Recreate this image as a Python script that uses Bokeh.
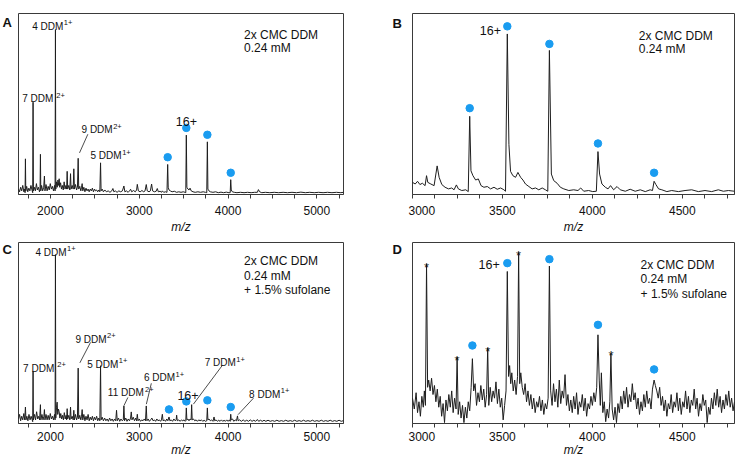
from bokeh.plotting import figure
from bokeh.models import Range1d, FixedTicker, Label
from bokeh.layouts import column, row
from bokeh.embed import file_html
from bokeh.resources import INLINE
from bokeh.core.properties import value

FONT = "Liberation Sans"
BLUE = "#1A9CF0"
INK = "#1e1e1e"

# ---------------- data (m/z, relative intensity) ----------------
A_TRACE = [
    (1640, 3), (1652, 1.5), (1664, 4), (1676, 2), (1688, 5), (1700, 1.5), (1710, 3), (1714, 1),
    (1718, 19.7), (1722, 2), (1732, 4.5), (1744, 1.5), (1756, 3.5), (1768, 2), (1780, 5), (1792, 2.5),
    (1800, 1), (1804, 51), (1808, 2), (1818, 4), (1830, 2), (1842, 6), (1852, 2.5), (1864, 4),
    (1876, 1.5), (1883, 3), (1887, 22.2), (1891, 2), (1900, 5), (1912, 2), (1924, 4), (1932, 10.2),
    (1938, 2), (1950, 5.5), (1962, 2), (1974, 4.5), (1986, 2.5), (1998, 6), (2010, 3), (2022, 4.5),
    (2034, 2), (2046, 5), (2052, 2), (2056, 91.1), (2060, 3), (2068, 7), (2076, 4), (2084, 8),
    (2092, 5), (2098, 8.7), (2104, 4), (2114, 6.5), (2124, 3), (2134, 5), (2144, 2.5), (2154, 7),
    (2164, 3), (2174, 5), (2182, 3), (2188, 12.8), (2194, 3), (2206, 5), (2218, 2.5), (2226, 11.5),
    (2232, 3), (2244, 5), (2256, 3), (2263, 14.2), (2270, 3), (2282, 5.5), (2294, 2.5), (2304, 4),
    (2312, 20), (2318, 3), (2330, 4.5), (2342, 2), (2350, 4), (2357, 6), (2364, 2), (2376, 4),
    (2388, 1.5), (2400, 3.5), (2412, 2), (2424, 3), (2436, 1.5), (2448, 3), (2460, 2), (2472, 3.5),
    (2484, 1.5), (2496, 3), (2508, 2), (2520, 2.5), (2532, 1.5), (2544, 2.5), (2556, 1.5), (2564, 17.5),
    (2570, 2), (2582, 3), (2596, 1.5), (2612, 2.5), (2630, 1.5), (2650, 2), (2670, 1.2), (2690, 2),
    (2703, 3.3), (2714, 1.5), (2730, 2), (2750, 1.2), (2770, 2), (2790, 1.5), (2810, 2), (2827, 4.7),
    (2838, 1.5), (2855, 2), (2875, 1.2), (2890, 2), (2902, 2.9), (2915, 1.5), (2935, 2.2), (2955, 1.5),
    (2970, 2.5), (2978, 5.6), (2990, 2), (3010, 1.5), (3030, 2.2), (3050, 1.5), (3065, 2), (3079, 5.5),
    (3090, 2), (3110, 1.5), (3125, 2), (3139, 5.8), (3150, 2), (3170, 1.5), (3190, 1.8), (3203, 3.3),
    (3215, 1.5), (3235, 1.8), (3250, 1.2), (3260, 2), (3275, 1.2), (3295, 1.5), (3312, 1.2), (3320, 16.6),
    (3326, 4), (3335, 2.5), (3350, 2), (3370, 1.5), (3395, 1.8), (3420, 1.2), (3445, 1.5), (3470, 1.2),
    (3495, 1.5), (3515, 1.2), (3524, 1), (3530, 32.8), (3536, 4), (3548, 3), (3560, 2.5), (3572, 3.5),
    (3585, 2), (3605, 1.5), (3630, 1.2), (3660, 1.5), (3690, 1.2), (3720, 1.5), (3745, 1.2), (3760, 1),
    (3767, 29.1), (3773, 3), (3785, 2), (3800, 1.5), (3830, 1.2), (3860, 1.5), (3890, 1), (3920, 1.3),
    (3950, 1), (3980, 1.3), (4010, 1), (4024, 1), (4030, 8.2), (4036, 2.5), (4048, 1.5), (4070, 1.2),
    (4100, 1), (4140, 1.2), (4180, 1), (4220, 1.2), (4260, 1), (4300, 1.2), (4330, 1.2), (4342, 2.7),
    (4355, 1.5), (4380, 1), (4420, 1.2), (4470, 1), (4520, 1.2), (4570, 1), (4620, 1.2), (4670, 1),
    (4720, 1.2), (4770, 1), (4820, 1.3), (4870, 1), (4920, 1.2), (4970, 1), (5020, 1.2), (5070, 1),
    (5120, 1.2), (5170, 1), (5220, 1.2), (5270, 1), (5300, 1.2),
]

B_TRACE = [
    (3000, 6.7), (3015, 5.8), (3028, 7.3), (3041, 5.5), (3055, 6.2), (3070, 4.9), (3078, 10.4), (3085, 6.7),
    (3102, 5.8), (3120, 4.9), (3137, 15.8), (3148, 9.5), (3163, 5.5), (3181, 4.0), (3200, 3.1), (3218, 3.6),
    (3231, 2.6), (3244, 5.3), (3255, 3.1), (3274, 2.2), (3296, 2.6), (3310, 1.6), (3318, 43.2), (3325, 13.1),
    (3336, 10.4), (3351, 8.0), (3366, 8.6), (3381, 4.9), (3397, 4.0), (3416, 4.4), (3434, 3.1), (3453, 4.0),
    (3471, 2.9), (3490, 3.6), (3508, 2.6), (3517, 1.8), (3527, 88.7), (3536, 27.7), (3545, 12.8), (3558, 10.4),
    (3573, 9.5), (3586, 12.2), (3601, 9.5), (3614, 8.0), (3628, 5.8), (3647, 4.4), (3665, 3.1), (3684, 3.6),
    (3702, 2.6), (3721, 3.6), (3739, 2.6), (3752, 1.8), (3761, 79.6), (3772, 11.3), (3785, 7.7), (3804, 6.2),
    (3822, 4.0), (3841, 3.1), (3869, 2.2), (3896, 2.6), (3920, 2.2), (3935, 3.6), (3952, 1.8), (3979, 2.2),
    (4002, 1.6), (4022, 1.8), (4031, 23.7), (4040, 11.3), (4053, 5.8), (4072, 4.0), (4087, 3.1), (4101, 4.9),
    (4118, 2.6), (4137, 4.4), (4155, 2.6), (4183, 1.8), (4210, 2.9), (4238, 1.8), (4266, 2.6), (4294, 1.6),
    (4321, 2.6), (4334, 2.2), (4343, 7.3), (4353, 5.5), (4368, 3.1), (4386, 2.6), (4414, 1.6), (4441, 2.2),
    (4478, 1.6), (4515, 2.2), (4552, 2.6), (4589, 1.6), (4626, 2.2), (4663, 1.6), (4700, 2.6), (4728, 1.8),
    (4756, 2.2), (4790, 1.8),
]

C_TRACE = [
    (1640, 2.5), (1652, 5), (1664, 1.5), (1676, 4), (1688, 2), (1700, 5.5), (1710, 2), (1718, 9.1),
    (1724, 2), (1734, 4), (1746, 1.5), (1758, 5), (1770, 2), (1782, 4), (1794, 2), (1800, 1),
    (1804, 28.8), (1808, 2), (1820, 5), (1832, 2), (1844, 6.5), (1856, 2.5), (1868, 4), (1878, 2),
    (1887, 10.4), (1892, 2), (1904, 5), (1916, 2), (1926, 4), (1932, 7.7), (1938, 2), (1950, 5),
    (1962, 2), (1974, 4.5), (1986, 2), (1998, 5.5), (2010, 2.5), (2022, 4), (2034, 2), (2046, 5),
    (2052, 2), (2056, 93.3), (2060, 3), (2068, 9), (2075, 11.8), (2082, 5), (2090, 8), (2098, 6.5),
    (2106, 3), (2116, 5.5), (2126, 2.5), (2136, 4.5), (2146, 2), (2156, 6), (2166, 2.5), (2176, 4.5),
    (2182, 2), (2188, 8.2), (2194, 2.5), (2206, 4.5), (2218, 2), (2226, 9.1), (2232, 2.5), (2244, 4),
    (2256, 2), (2263, 7.3), (2270, 2), (2282, 5), (2294, 2), (2304, 3.5), (2312, 30.6), (2318, 2.5),
    (2330, 4.5), (2342, 2), (2350, 4), (2357, 7.7), (2364, 2), (2376, 5), (2388, 1.5), (2400, 4),
    (2412, 2), (2424, 5), (2436, 1.5), (2448, 3.5), (2460, 2), (2472, 4), (2484, 1.5), (2496, 3.5),
    (2508, 2), (2520, 4), (2532, 1.5), (2544, 3), (2556, 1.5), (2564, 31.9), (2570, 2), (2582, 3.5),
    (2596, 1.5), (2610, 3), (2624, 1.5), (2638, 2.5), (2652, 1.2), (2666, 3), (2680, 1.5), (2694, 2.5),
    (2708, 1.2), (2722, 2.5), (2735, 1.5), (2744, 7.3), (2752, 1.5), (2766, 3), (2780, 1.2), (2794, 2.5),
    (2808, 1.5), (2820, 2), (2827, 9.7), (2834, 1.5), (2848, 3), (2862, 1.2), (2876, 2.5), (2890, 1.5),
    (2902, 3), (2910, 6.4), (2918, 2), (2932, 3.5), (2946, 1.5), (2960, 3), (2970, 1.5), (2978, 5.1),
    (2986, 1.5), (3000, 2.5), (3014, 1.2), (3028, 2), (3042, 1.5), (3056, 2.5), (3070, 1.5), (3079, 9.7),
    (3086, 1.5), (3100, 2.5), (3114, 1.2), (3128, 2), (3142, 3), (3156, 1.5), (3170, 2), (3184, 1.2),
    (3198, 2.5), (3212, 1.5), (3226, 2), (3240, 1.2), (3250, 2), (3260, 5.1), (3268, 1.5), (3282, 2),
    (3296, 1.2), (3310, 2.5), (3322, 1.5), (3335, 3.6), (3345, 1.5), (3360, 2), (3375, 1.2), (3390, 2.5),
    (3405, 1.5), (3415, 2), (3421, 4.6), (3428, 1.5), (3445, 2), (3460, 1.2), (3475, 2), (3490, 1.5),
    (3505, 2), (3518, 1.2), (3524, 1.5), (3530, 8.6), (3536, 2), (3548, 2.5), (3560, 1.5), (3572, 2.5),
    (3584, 2), (3590, 10.4), (3596, 2), (3610, 2.5), (3625, 1.5), (3640, 2), (3655, 1.2), (3670, 2),
    (3685, 1.5), (3700, 2), (3715, 1.2), (3730, 1.8), (3745, 1.2), (3760, 1.5), (3767, 8.6), (3773, 2),
    (3785, 2.5), (3800, 1.5), (3815, 2), (3830, 1.2), (3842, 3.6), (3850, 1.5), (3865, 2), (3880, 1.2),
    (3895, 1.8), (3910, 1.2), (3925, 2), (3940, 1.2), (3955, 1.8), (3970, 1.2), (3985, 2), (4000, 1.2),
    (4015, 2), (4024, 1.2), (4030, 5.1), (4036, 2), (4050, 2.5), (4065, 1.2), (4080, 2), (4095, 1.5),
    (4106, 4.2), (4114, 1.5), (4130, 2), (4150, 1.2), (4170, 2), (4190, 1.2), (4210, 1.8), (4230, 1.2),
    (4250, 2), (4270, 1.2), (4290, 1.8), (4310, 1.2), (4330, 2.2), (4345, 1.2), (4365, 1.8), (4385, 1.2),
    (4405, 1.8), (4425, 1.2), (4450, 1.8), (4475, 1.2), (4500, 1.6), (4525, 1.2), (4550, 1.8), (4575, 1.2),
    (4600, 1.6), (4625, 1.2), (4650, 1.8), (4675, 1.2), (4700, 1.6), (4725, 1.2), (4750, 1.8), (4775, 1.2),
    (4800, 1.6), (4825, 1.2), (4850, 1.8), (4875, 1.2), (4900, 1.6), (4925, 1.2), (4950, 1.8), (4975, 1.2),
    (5000, 1.6), (5025, 1.2), (5050, 1.8), (5075, 1.2), (5100, 1.6), (5125, 1.2), (5150, 1.8), (5175, 1.2),
    (5200, 1.6), (5225, 1.2), (5250, 1.8), (5275, 1.2), (5300, 1.6),
]

D_TRACE = [
    (3000, 14), (3010, 8), (3020, 17), (3028, 6), (3036, 12), (3044, 4), (3052, 15), (3060, 9),
    (3066, 18), (3072, 10), (3078, 88), (3084, 20), (3090, 24), (3098, 18), (3106, 25), (3114, 16),
    (3122, 21), (3130, 12), (3138, 19), (3146, 9), (3154, 15), (3162, 4), (3170, 11), (3178, 0.5),
    (3186, 13), (3194, 7), (3202, 16), (3210, 9), (3218, 18), (3226, 6), (3234, 14), (3242, 8),
    (3248, 36.7), (3254, 5), (3262, 12), (3270, 3), (3278, 10), (3286, 0.5), (3294, 9), (3302, 3),
    (3310, 12), (3318, 7), (3326, 20), (3333, 35.8), (3340, 18), (3348, 22), (3356, 10), (3364, 17),
    (3372, 12), (3380, 21), (3388, 13), (3396, 19), (3404, 9), (3412, 16), (3418, 41.7), (3424, 10),
    (3432, 20), (3440, 12), (3448, 18), (3456, 14), (3464, 23), (3472, 11), (3480, 19), (3488, 9),
    (3496, 14), (3504, 2), (3512, 10), (3520, 18), (3527, 84), (3534, 26), (3540, 32), (3546, 22),
    (3552, 28), (3560, 18), (3568, 24), (3576, 16), (3584, 26), (3590, 94.5), (3596, 22), (3602, 28),
    (3610, 20), (3618, 16), (3626, 22), (3634, 12), (3642, 18), (3650, 10), (3658, 16), (3666, 8),
    (3674, 14), (3682, 6), (3690, 12), (3698, 9), (3706, 15), (3714, 7), (3722, 13), (3730, 5),
    (3738, 11), (3746, 8), (3754, 14), (3761, 87), (3768, 18), (3776, 10), (3784, 22), (3792, 12),
    (3800, 19), (3808, 9), (3816, 24), (3824, 11), (3832, 18), (3840, 14), (3848, 27), (3856, 10),
    (3864, 16), (3872, 7), (3880, 13), (3888, 6), (3896, 15), (3904, 8), (3912, 17), (3920, 5),
    (3928, 12), (3936, 9), (3944, 16), (3952, 7), (3960, 14), (3968, 4), (3976, 11), (3984, 8),
    (3992, 15), (4000, 10), (4008, 17), (4016, 12), (4024, 20), (4031, 49), (4038, 24), (4044, 10),
    (4050, 28), (4058, 6), (4066, 12), (4074, 1), (4082, 8), (4090, 3), (4097, 12), (4103, 38.5),
    (4110, 8), (4118, 2), (4126, 9), (4134, 0.5), (4142, 11), (4150, 6), (4158, 15), (4166, 8),
    (4174, 18), (4182, 11), (4190, 20), (4198, 9), (4206, 16), (4214, 12), (4222, 22), (4230, 13),
    (4238, 17), (4246, 8), (4254, 14), (4262, 5), (4270, 12), (4278, 7), (4286, 16), (4294, 9),
    (4302, 18), (4310, 11), (4318, 14), (4326, 8), (4334, 19), (4343, 24), (4350, 21), (4358, 18),
    (4366, 14), (4374, 20), (4382, 10), (4390, 15), (4398, 7), (4406, 13), (4414, 4), (4422, 11),
    (4430, 8), (4438, 16), (4446, 6), (4454, 12), (4462, 9), (4470, 17), (4478, 7), (4486, 14),
    (4494, 5), (4502, 12), (4510, 9), (4518, 18), (4526, 8), (4534, 15), (4542, 6), (4550, 13),
    (4558, 10), (4566, 19), (4574, 8), (4582, 14), (4590, 4), (4598, 11), (4606, 7), (4614, 16),
    (4622, 10), (4630, 13), (4638, 0.5), (4646, 9), (4654, 5), (4662, 14), (4670, 8), (4678, 17),
    (4686, 10), (4694, 19), (4702, 9), (4710, 15), (4718, 6), (4726, 13), (4734, 8), (4742, 16),
    (4750, 10), (4758, 18), (4766, 9), (4774, 14), (4782, 7), (4790, 12),
]

# protein charge-state markers (blue dots)
A_DOT_MZ = [3320, 3530, 3767, 4030]
A_DOT_I = [20.6, 36.8, 33.0, 12.0]
B_DOT_MZ = [3318, 3527, 3761, 4031, 4343]
B_DOT_I = [47.7, 92.9, 83.2, 28.2, 12.0]
C_DOT_MZ = [3335, 3530, 3767, 4030]
C_DOT_I = [7.8, 12.2, 12.8, 9.1]
D_DOT_MZ = [3333, 3527, 3761, 4031, 4343]
D_DOT_I = [43.1, 88.6, 90.8, 54.5, 29.9]
# asterisk-marked peaks in D
D_STAR_MZ = [3078, 3248, 3418, 3590, 4103]
D_STAR_I = [90.8, 39.1, 44.0, 97.2, 42.2]

WIDE_RANGE = (1640, 5300)
ZOOM_RANGE = (3000, 4790)
WIDE_MAJOR = [2000, 3000, 4000, 5000]
WIDE_MINOR = [1750, 2250, 2500, 2750, 3250, 3500, 3750, 4250, 4500, 4750, 5250]
ZOOM_MAJOR = [3000, 3500, 4000, 4500]
ZOOM_MINOR = [3125, 3250, 3375, 3625, 3750, 3875, 4125, 4250, 4375, 4625, 4750]

# ---------------- helpers ----------------
CW = {" ": .278, "D": .722, "M": .833, "+": .584}


def tw(s, size):
    return sum(CW.get(c, .556) for c in s) * size


def make_fig(w, h, xr, left, right, top, bottom, major, minor, lab_so, ax_so):
    p = figure(width=w, height=h, x_range=Range1d(*xr), y_range=Range1d(0, 100),
               y_axis_location=None, toolbar_location=None, output_backend="svg",
               min_border_left=left, min_border_right=right,
               min_border_top=top, min_border_bottom=bottom)
    p.grid.visible = False
    p.outline_line_color = "#3a3a3a"
    p.outline_line_width = 1
    ax = p.xaxis[0]
    ax.ticker = FixedTicker(ticks=major, minor_ticks=minor)
    ax.major_tick_in = 0
    ax.major_tick_out = 4
    ax.minor_tick_in = 0
    ax.minor_tick_out = 4
    ax.axis_line_color = "#3a3a3a"
    ax.major_tick_line_color = "#3a3a3a"
    ax.minor_tick_line_color = "#3a3a3a"
    ax.major_label_text_font = FONT
    ax.major_label_text_font_size = "12px"
    ax.major_label_text_color = "#111111"
    ax.major_label_standoff = lab_so
    ax.axis_label = "m/z"
    ax.axis_label_text_font = FONT
    ax.axis_label_text_font_size = "12px"
    ax.axis_label_text_font_style = "italic"
    ax.axis_label_text_color = "#111111"
    ax.axis_label_standoff = ax_so
    p.background_fill_color = "white"
    p.border_fill_color = "white"
    return p


def letter_fig(w, h, letter, lx, ly):
    f = figure(width=w, height=h, x_range=Range1d(0, w), y_range=Range1d(h, 0),
               x_axis_location=None, y_axis_location=None, toolbar_location=None,
               output_backend="svg", min_border=0)
    f.grid.visible = False
    f.outline_line_color = None
    f.border_fill_color = "white"
    f.text([lx], [ly], text=[letter], text_font=value(FONT), text_font_size="13px",
           text_font_style="bold", text_align="left", text_baseline="alphabetic",
           text_color="#111111")
    return f


def txt(p, x, y, s, size="12px", align="left", style="normal", xo=0, yo=0):
    p.add_layout(Label(x=x, y=y, x_offset=xo, y_offset=yo, text=s, text_font=FONT,
                       text_font_size=size, text_font_style=style, text_color="#111111",
                       text_align=align, text_baseline="alphabetic"))


def sup_label(p, x, y, main, sup, gap=0.5):
    txt(p, x, y, main, size="10px")
    txt(p, x, y, sup, size="7.5px", xo=tw(main, 10) + gap, yo=3.5)


def spectrum(p, trace, dmz, dint):
    mz = [t[0] for t in trace]
    it = [t[1] for t in trace]
    p.line(mz, it, line_color=INK, line_width=1)
    p.scatter(dmz, dint, size=7.5, marker="circle", fill_color=BLUE, line_color=BLUE)


# ---------------- panels ----------------
TOP_H, BOT_H = 236, 223
pA = make_fig(371, TOP_H, WIDE_RANGE, 1, 45, 13, 40, WIDE_MAJOR, WIDE_MINOR, 7, 2)
pB = make_fig(330, TOP_H, ZOOM_RANGE, 4, 4, 13, 40, ZOOM_MAJOR, ZOOM_MINOR, 7, 2)
pC = make_fig(371, BOT_H, WIDE_RANGE, 1, 45, 6, 35, WIDE_MAJOR, WIDE_MINOR, 4, -1)
pD = make_fig(330, BOT_H, ZOOM_RANGE, 4, 4, 6, 35, ZOOM_MAJOR, ZOOM_MINOR, 4, -1)

lA = letter_fig(17, TOP_H, "A", 2, 12)
lB = letter_fig(20, TOP_H, "B", 4, 13)
lC = letter_fig(17, BOT_H, "C", 2, 9)
lD = letter_fig(20, BOT_H, "D", 4, 9)

spectrum(pA, A_TRACE, A_DOT_MZ, A_DOT_I)
spectrum(pB, B_TRACE, B_DOT_MZ, B_DOT_I)
spectrum(pC, C_TRACE, C_DOT_MZ, C_DOT_I)
spectrum(pD, D_TRACE, D_DOT_MZ, D_DOT_I)

pD.text(D_STAR_MZ, D_STAR_I, text=["*"] * len(D_STAR_MZ), text_font=value(FONT),
        text_font_size="13px", text_align="center", text_baseline="alphabetic",
        y_offset=8, text_color="#111111")

# panel A annotations
sup_label(pA, 1794, 92.9, "4 DDM", "1+")
sup_label(pA, 1681, 52.8, "7 DDM", "2+", gap=3)
sup_label(pA, 2350, 35.7, "9 DDM", "2+")
sup_label(pA, 2451, 21.5, "5 DDM", "1+")
pA.segment([2421], [33.3], [2327], [23.0], line_color=INK, line_width=0.8)
txt(pA, 3530, 40.4, "16+", size="12.5px", align="center")
txt(pA, 4180, 88.0, "2x CMC DDM")
txt(pA, 4180, 80.7, "0.24 mM")

# panel B annotations
txt(pB, 3492, 90.5, "16+", size="12.5px", align="right")
txt(pB, 4258, 87.8, "2x CMC DDM")
txt(pB, 4258, 80.5, "0.24 mM")

# panel C annotations
sup_label(pC, 1831, 94.5, "4 DDM", "1+")
sup_label(pC, 2282, 46.6, "9 DDM", "2+")
sup_label(pC, 1692, 30.4, "7 DDM", "2+", gap=3)
sup_label(pC, 2414, 32.6, "5 DDM", "1+")
sup_label(pC, 2646, 17.1, "11 DDM", "2+")
sup_label(pC, 3052, 25.3, "6 DDM", "1+")
sup_label(pC, 3737, 33.5, "7 DDM", "1+")
sup_label(pC, 4237, 16.2, "8 DDM", "1+")
pC.segment([2451, 2872, 3136, 3937, 4286], [44.8, 14.4, 22.2, 32.2, 14.0],
           [2331, 2827, 3080, 3610, 4113], [33.5, 9.8, 10.7, 10.7, 4.9],
           line_color=INK, line_width=0.8)
txt(pC, 3549, 15.3, "16+", size="12.5px", align="center")
txt(pC, 4180, 90.0, "2x CMC DDM")
txt(pC, 4180, 81.7, "0.24 mM")
txt(pC, 4180, 73.9, "+ 1.5% sufolane")

# panel D annotations
txt(pD, 3485, 88.1, "16+", size="12.5px", align="right")
txt(pD, 4268, 87.6, "2x CMC DDM")
txt(pD, 4268, 79.9, "0.24 mM")
txt(pD, 4268, 71.7, "+ 1.5% sufolane")

layout = column(row(lA, pA, lB, pB), row(lC, pC, lD, pD))
open("out.html", "w").write(file_html(layout, INLINE))
